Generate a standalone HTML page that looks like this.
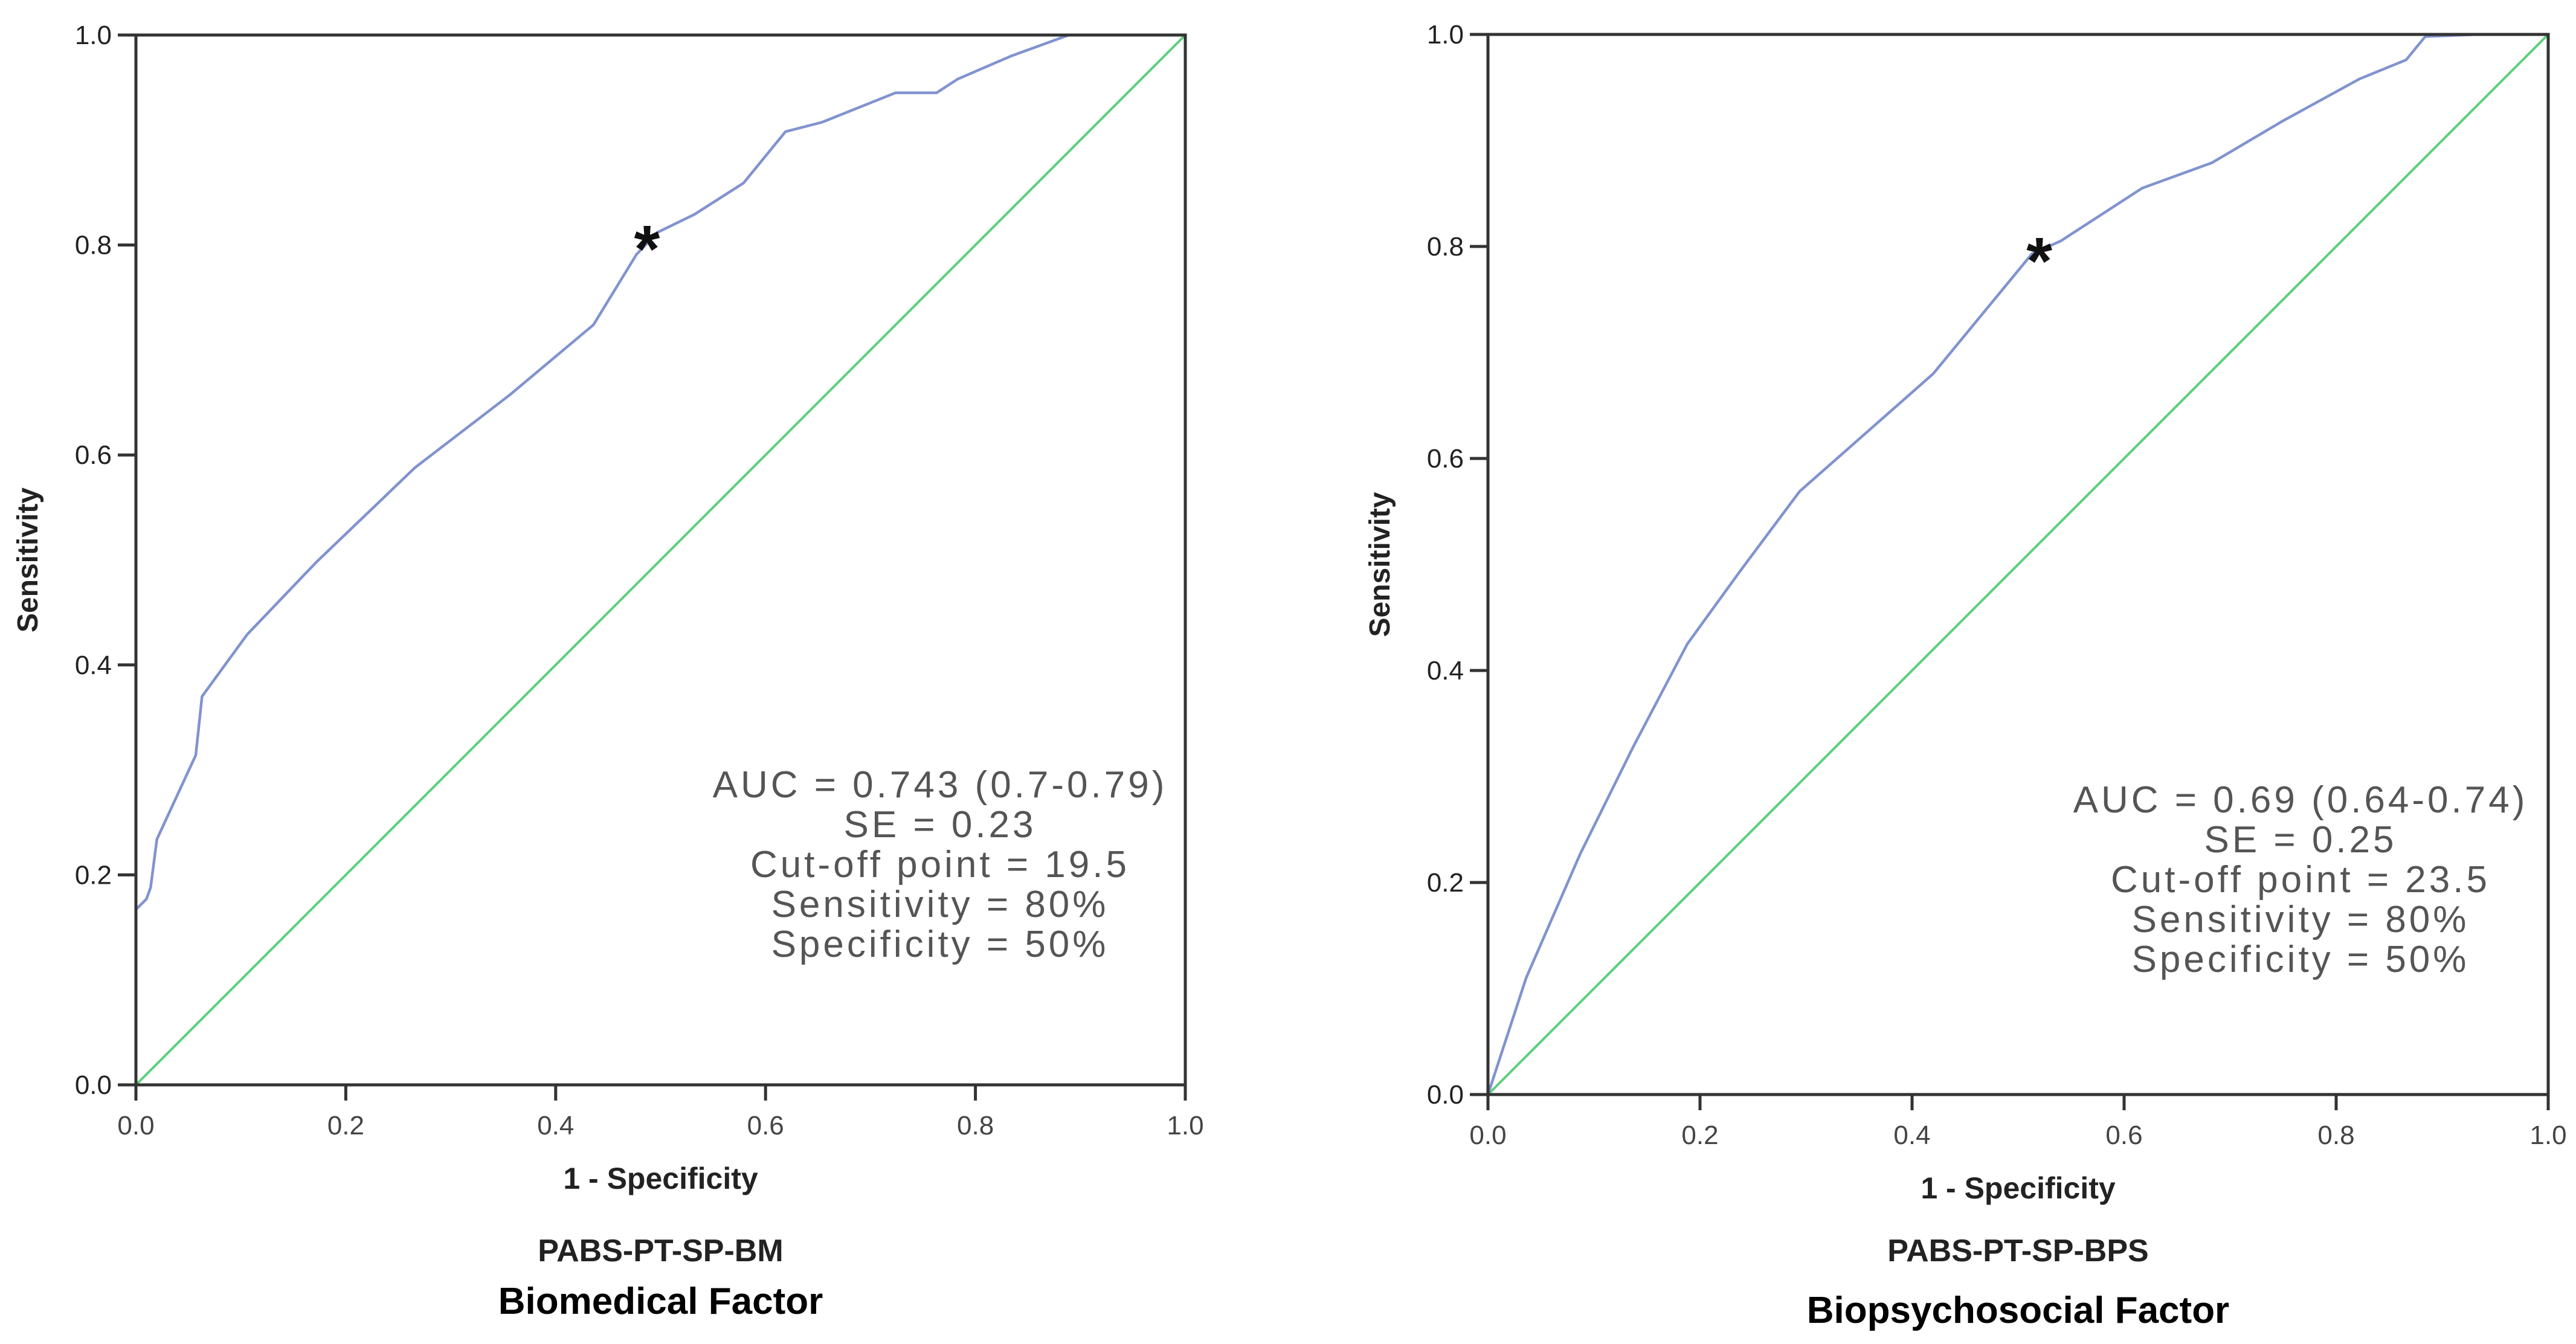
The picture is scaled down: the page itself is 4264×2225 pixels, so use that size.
<!DOCTYPE html>
<html><head><meta charset="utf-8"><style>
html,body{margin:0;padding:0;background:#fff;}
svg{display:block;}
</style></head><body>
<svg id="fig" width="4264" height="2225" viewBox="0 0 4264 2225" xmlns="http://www.w3.org/2000/svg"></svg>
<script>
const ticks = [0, 0.2, 0.4, 0.6, 0.8, 1.0];
const tickLabels = ["0.0","0.2","0.4","0.6","0.8","1.0"];
const bmFpr = [0,0,0.01,0.014,0.02,0.057,0.063,0.106,0.172,0.266,0.356,0.436,0.477,0.497,0.532,0.579,0.619,0.654,0.724,0.763,0.783,0.834,0.889,1.0];
const bmTpr = [0,0.167,0.177,0.188,0.234,0.314,0.37,0.429,0.498,0.588,0.657,0.724,0.791,0.812,0.829,0.859,0.908,0.917,0.945,0.945,0.958,0.98,1.0,1.0];
const bpsFpr = [0,0.036,0.087,0.137,0.188,0.238,0.294,0.42,0.513,0.54,0.617,0.683,0.749,0.822,0.866,0.884,0.934];
const bpsTpr = [0,0.11,0.227,0.328,0.425,0.494,0.569,0.68,0.793,0.805,0.855,0.879,0.918,0.958,0.976,0.998,1.0];
const bmCut = [0.487, 0.81];
const bpsCut = [0.52, 0.80];
const bmStats = ["AUC = 0.743 (0.7-0.79)","SE = 0.23","Cut-off point = 19.5","Sensitivity = 80%","Specificity = 50%"];
const bpsStats = ["AUC = 0.69 (0.64-0.74)","SE = 0.25","Cut-off point = 23.5","Sensitivity = 80%","Specificity = 50%"];

const NS="http://www.w3.org/2000/svg";
const svg=document.getElementById('fig');
function mk(tag,attrs,parent,text){const e=document.createElementNS(NS,tag);for(const k in attrs)e.setAttribute(k,attrs[k]);if(text!==undefined)e.textContent=text;(parent||svg).appendChild(e);return e;}

function panel(cfg){
  const g=mk('g',{});
  
  
  const sx=v=>cfg.x0+v*(cfg.x1-cfg.x0);
  const sy=v=>cfg.yb-v*(cfg.yb-cfg.yt);
  const d=mk('line',{x1:sx(0),y1:sy(0),x2:sx(1),y2:sy(1),stroke:'#5ccf7e','stroke-width':4},g);
  
  
  const pts=cfg.fx.map((v,i)=>sx(v)+','+sy(cfg.ty[i])).join(' ');
  const c=mk('polyline',{points:pts,fill:'none',stroke:'#8193cf','stroke-width':4.5,'stroke-linejoin':'round'},g);
  
  
  const f=mk('path',{d:`M${sx(0)},${sy(1)} H${sx(1)} V${sy(0)} H${sx(0)} Z`,fill:'none',stroke:'#333','stroke-width':5},g);
  
  
  ticks.forEach((t,i)=>{
    const tx=mk('line',{x1:sx(t),y1:sy(0),x2:sx(t),y2:sy(0)+26,stroke:'#333','stroke-width':5},g);
    
    
    const ty=mk('line',{x1:sx(0)-30,y1:sy(t),x2:sx(0),y2:sy(t),stroke:'#333','stroke-width':5},g);
    
    
    const lx=mk('text',{x:sx(t),y:sy(0)+82,'text-anchor':'middle','font-family':'Liberation Sans, sans-serif','font-size':44,fill:'#444'},g,tickLabels[i]);
    
    
    const ly=mk('text',{x:sx(0)-40,y:sy(t)+15,'text-anchor':'end','font-family':'Liberation Sans, sans-serif','font-size':44,fill:'#222'},g,tickLabels[i]);
    
    
  });
  const st=mk('text',{x:sx(cfg.cut[0]),y:sy(cfg.cut[1])+62,'text-anchor':'middle','font-family':'Liberation Sans, sans-serif','font-weight':'bold','font-size':110,fill:'#111'},g,'*');
  
  
  const yt=mk('text',{x:0,y:0,transform:`translate(${cfg.ylx},${(sy(0)+sy(1))/2}) rotate(-90)`,'text-anchor':'middle','font-family':'Liberation Sans, sans-serif','font-weight':'bold','font-size':48,fill:'#222'},g,'Sensitivity');
  
  
  const xt=mk('text',{x:(sx(0)+sx(1))/2,y:cfg.xty,'text-anchor':'middle','font-family':'Liberation Sans, sans-serif','font-weight':'bold','font-size':50,fill:'#222'},g,'1 - Specificity');
  
  
  const s1=mk('text',{x:(sx(0)+sx(1))/2,y:cfg.s1y,'text-anchor':'middle','font-family':'Liberation Sans, sans-serif','font-weight':'bold','font-size':52,fill:'#222'},g,cfg.scale);
  
  
  const s2=mk('text',{x:(sx(0)+sx(1))/2,y:cfg.s2y,'text-anchor':'middle','font-family':'Liberation Sans, sans-serif','font-weight':'bold','font-size':62,fill:'#000'},g,cfg.factor);
  
  
  cfg.stats.forEach((s,i)=>{
    const t=mk('text',{x:cfg.sx,y:cfg.sy0+i*66,'text-anchor':'middle','font-family':'Liberation Sans, sans-serif','font-size':62,'letter-spacing':5,fill:'#555'},g,s);
    
    
  });
}
panel({name:'biomedical-roc-panel',x0:225,x1:1962,yt:58,yb:1796,fx:bmFpr,ty:bmTpr,cut:bmCut,ylx:62,xty:1968,s1y:2088,s2y:2175,scale:'PABS-PT-SP-BM',factor:'Biomedical Factor',stats:bmStats,sx:1556,sy0:1320});
panel({name:'biopsychosocial-roc-panel',x0:2463,x1:4218,yt:57,yb:1812,fx:bpsFpr,ty:bpsTpr,cut:bpsCut,ylx:2300,xty:1984,s1y:2088,s2y:2190,scale:'PABS-PT-SP-BPS',factor:'Biopsychosocial Factor',stats:bpsStats,sx:3808,sy0:1345});
</script>
</body></html>
